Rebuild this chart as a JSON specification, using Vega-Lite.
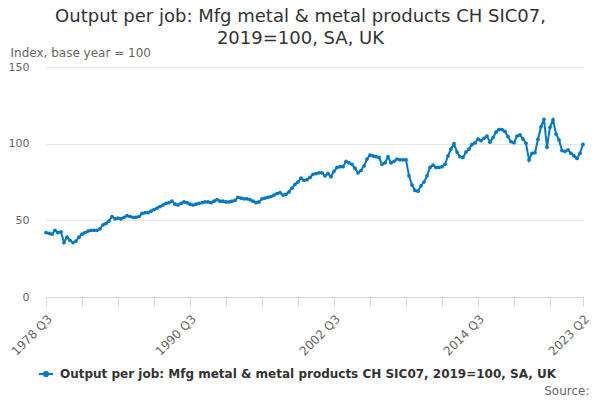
{
  "$schema": "https://vega.github.io/schema/vega-lite/v6.json",
  "width": 537,
  "height": 230,
  "autosize": {"type": "none"},
  "padding": {"left": 46, "top": 67, "right": 17, "bottom": 103},
  "background": "white",
  "title": {
    "text": ["Output per job: Mfg metal & metal products CH SIC07,", "2019=100, SA, UK"],
    "font": "DejaVu Sans",
    "fontSize": 18,
    "fontWeight": "normal",
    "color": "#333333",
    "anchor": "middle",
    "frame": "group",
    "dx": -14,
    "lineHeight": 22,
    "offset": -2
  },
  "config": {"view": {"stroke": null}, "font": "DejaVu Sans"},
  "data": {"values": [
    {"q":"1978 Q3","v":42.0},{"q":"1978 Q4","v":41.5},{"q":"1979 Q1","v":41.0},{"q":"1979 Q2","v":43.5},
    {"q":"1979 Q3","v":42.0},{"q":"1979 Q4","v":42.5},{"q":"1980 Q1","v":35.5},{"q":"1980 Q2","v":39.0},
    {"q":"1980 Q3","v":37.0},{"q":"1980 Q4","v":35.5},{"q":"1981 Q1","v":36.5},{"q":"1981 Q2","v":39.0},
    {"q":"1981 Q3","v":41.0},{"q":"1981 Q4","v":42.0},{"q":"1982 Q1","v":43.0},{"q":"1982 Q2","v":43.5},
    {"q":"1982 Q3","v":43.5},{"q":"1982 Q4","v":43.5},{"q":"1983 Q1","v":44.5},{"q":"1983 Q2","v":47.0},
    {"q":"1983 Q3","v":48.0},{"q":"1983 Q4","v":49.5},{"q":"1984 Q1","v":52.5},{"q":"1984 Q2","v":51.0},
    {"q":"1984 Q3","v":51.5},{"q":"1984 Q4","v":51.0},{"q":"1985 Q1","v":52.0},{"q":"1985 Q2","v":53.0},
    {"q":"1985 Q3","v":52.5},{"q":"1985 Q4","v":52.0},{"q":"1986 Q1","v":52.0},{"q":"1986 Q2","v":52.5},
    {"q":"1986 Q3","v":54.5},{"q":"1986 Q4","v":55.0},{"q":"1987 Q1","v":55.0},{"q":"1987 Q2","v":56.0},
    {"q":"1987 Q3","v":57.0},{"q":"1987 Q4","v":58.0},{"q":"1988 Q1","v":59.0},{"q":"1988 Q2","v":60.0},
    {"q":"1988 Q3","v":61.0},{"q":"1988 Q4","v":61.5},{"q":"1989 Q1","v":62.5},{"q":"1989 Q2","v":60.5},
    {"q":"1989 Q3","v":60.0},{"q":"1989 Q4","v":61.0},{"q":"1990 Q1","v":62.0},{"q":"1990 Q2","v":61.5},
    {"q":"1990 Q3","v":60.5},{"q":"1990 Q4","v":60.0},{"q":"1991 Q1","v":60.5},{"q":"1991 Q2","v":61.0},
    {"q":"1991 Q3","v":61.5},{"q":"1991 Q4","v":62.0},{"q":"1992 Q1","v":62.0},{"q":"1992 Q2","v":61.5},
    {"q":"1992 Q3","v":62.5},{"q":"1992 Q4","v":63.5},{"q":"1993 Q1","v":62.5},{"q":"1993 Q2","v":62.5},
    {"q":"1993 Q3","v":62.0},{"q":"1993 Q4","v":62.0},{"q":"1994 Q1","v":62.5},{"q":"1994 Q2","v":63.0},
    {"q":"1994 Q3","v":65.0},{"q":"1994 Q4","v":64.5},{"q":"1995 Q1","v":64.0},{"q":"1995 Q2","v":64.0},
    {"q":"1995 Q3","v":63.5},{"q":"1995 Q4","v":62.5},{"q":"1996 Q1","v":61.5},{"q":"1996 Q2","v":62.0},
    {"q":"1996 Q3","v":64.0},{"q":"1996 Q4","v":64.5},{"q":"1997 Q1","v":65.0},{"q":"1997 Q2","v":65.5},
    {"q":"1997 Q3","v":66.5},{"q":"1997 Q4","v":67.5},{"q":"1998 Q1","v":68.0},{"q":"1998 Q2","v":66.5},
    {"q":"1998 Q3","v":67.0},{"q":"1998 Q4","v":68.5},{"q":"1999 Q1","v":71.0},{"q":"1999 Q2","v":73.5},
    {"q":"1999 Q3","v":75.0},{"q":"1999 Q4","v":77.5},{"q":"2000 Q1","v":76.0},{"q":"2000 Q2","v":76.5},
    {"q":"2000 Q3","v":78.0},{"q":"2000 Q4","v":80.0},{"q":"2001 Q1","v":80.5},{"q":"2001 Q2","v":81.0},
    {"q":"2001 Q3","v":81.0},{"q":"2001 Q4","v":79.0},{"q":"2002 Q1","v":80.5},{"q":"2002 Q2","v":78.5},
    {"q":"2002 Q3","v":82.0},{"q":"2002 Q4","v":84.5},{"q":"2003 Q1","v":85.0},{"q":"2003 Q2","v":85.0},
    {"q":"2003 Q3","v":88.5},{"q":"2003 Q4","v":87.5},{"q":"2004 Q1","v":86.5},{"q":"2004 Q2","v":84.0},
    {"q":"2004 Q3","v":81.0},{"q":"2004 Q4","v":82.5},{"q":"2005 Q1","v":85.5},{"q":"2005 Q2","v":90.0},
    {"q":"2005 Q3","v":92.5},{"q":"2005 Q4","v":92.0},{"q":"2006 Q1","v":91.5},{"q":"2006 Q2","v":91.0},
    {"q":"2006 Q3","v":86.5},{"q":"2006 Q4","v":87.5},{"q":"2007 Q1","v":91.5},{"q":"2007 Q2","v":87.5},
    {"q":"2007 Q3","v":88.5},{"q":"2007 Q4","v":90.0},{"q":"2008 Q1","v":89.5},{"q":"2008 Q2","v":89.5},
    {"q":"2008 Q3","v":89.5},{"q":"2008 Q4","v":79.0},{"q":"2009 Q1","v":73.0},{"q":"2009 Q2","v":69.5},
    {"q":"2009 Q3","v":69.0},{"q":"2009 Q4","v":72.5},{"q":"2010 Q1","v":75.0},{"q":"2010 Q2","v":79.0},
    {"q":"2010 Q3","v":84.5},{"q":"2010 Q4","v":86.0},{"q":"2011 Q1","v":84.5},{"q":"2011 Q2","v":84.5},
    {"q":"2011 Q3","v":85.0},{"q":"2011 Q4","v":86.5},{"q":"2012 Q1","v":92.0},{"q":"2012 Q2","v":96.5},
    {"q":"2012 Q3","v":100.0},{"q":"2012 Q4","v":94.5},{"q":"2013 Q1","v":91.5},{"q":"2013 Q2","v":91.0},
    {"q":"2013 Q3","v":94.5},{"q":"2013 Q4","v":96.5},{"q":"2014 Q1","v":99.5},{"q":"2014 Q2","v":100.5},
    {"q":"2014 Q3","v":103.0},{"q":"2014 Q4","v":102.0},{"q":"2015 Q1","v":103.5},{"q":"2015 Q2","v":105.0},
    {"q":"2015 Q3","v":101.0},{"q":"2015 Q4","v":104.0},{"q":"2016 Q1","v":107.5},{"q":"2016 Q2","v":109.2},
    {"q":"2016 Q3","v":109.2},{"q":"2016 Q4","v":108.0},{"q":"2017 Q1","v":104.6},{"q":"2017 Q2","v":101.3},
    {"q":"2017 Q3","v":100.6},{"q":"2017 Q4","v":105.0},{"q":"2018 Q1","v":105.7},{"q":"2018 Q2","v":103.0},
    {"q":"2018 Q3","v":100.2},{"q":"2018 Q4","v":89.4},{"q":"2019 Q1","v":93.7},{"q":"2019 Q2","v":94.1},
    {"q":"2019 Q3","v":102.9},{"q":"2019 Q4","v":111.1},{"q":"2020 Q1","v":115.9},{"q":"2020 Q2","v":97.7},
    {"q":"2020 Q3","v":110.7},{"q":"2020 Q4","v":115.5},{"q":"2021 Q1","v":106.3},{"q":"2021 Q2","v":102.4},
    {"q":"2021 Q3","v":95.5},{"q":"2021 Q4","v":95.0},{"q":"2022 Q1","v":95.9},{"q":"2022 Q2","v":93.7},
    {"q":"2022 Q3","v":92.0},{"q":"2022 Q4","v":90.4},{"q":"2023 Q1","v":93.7},{"q":"2023 Q2","v":99.6}
  ]},
  "mark": {"type": "line", "strokeWidth": 2, "point": {"filled": true, "size": 14}},
  "encoding": {
    "x": {
      "field": "q",
      "type": "ordinal",
      "sort": null,
      "scale": {"type": "point", "padding": 0},
      "axis": {
        "values": ["1978 Q3","1981 Q3","1984 Q3","1987 Q3","1990 Q3","1993 Q3","1996 Q3","1999 Q3","2002 Q3","2005 Q3","2008 Q3","2011 Q3","2014 Q3","2017 Q3","2020 Q3","2023 Q2"],
        "labelExpr": "indexof(['1978 Q3','1990 Q3','2002 Q3','2014 Q3','2023 Q2'], datum.value) >= 0 ? datum.value : ''",
        "labelAngle": -45,
        "labelFont": "DejaVu Sans",
        "labelFontSize": 12,
        "labelColor": "#666666",
        "labelOverlap": false,
        "labelPadding": 7,
        "domainColor": "#ccd6eb",
        "tickColor": "#ccd6eb",
        "tickSize": 9,
        "grid": false,
        "title": "Source:",
        "titleX": 543,
        "titleY": 97,
        "titleAlign": "right",
        "titleBaseline": "alphabetic",
        "titleFont": "DejaVu Sans",
        "titleFontSize": 12,
        "titleFontWeight": "normal",
        "titleColor": "#666666"
      }
    },
    "y": {
      "field": "v",
      "type": "quantitative",
      "scale": {"domain": [0, 150]},
      "axis": {
        "values": [0, 50, 100, 150],
        "title": "Index, base year = 100",
        "titleAngle": 0,
        "titleAlign": "left",
        "titleBaseline": "alphabetic",
        "titleX": -36,
        "titleY": -11,
        "titleFont": "DejaVu Sans",
        "titleFontSize": 12,
        "titleFontWeight": "normal",
        "titleColor": "#666666",
        "labelFont": "DejaVu Sans",
        "labelFontSize": 11,
        "labelColor": "#666666",
        "labelPadding": 17,
        "domain": false,
        "ticks": false,
        "gridColor": "#e6e6e6"
      }
    },
    "color": {
      "datum": "Output per job: Mfg metal & metal products CH SIC07, 2019=100, SA, UK",
      "type": "nominal",
      "scale": {"range": ["#0077c8"]},
      "legend": {
        "orient": "none",
        "legendX": -8,
        "legendY": 299,
        "title": null,
        "labelFont": "DejaVu Sans",
        "labelFontSize": 12,
        "labelFontWeight": "bold",
        "labelColor": "#333333",
        "labelLimit": 700,
        "labelOffset": 6,
        "symbolType": "M-1,0L1,0M-0.3,0A0.3,0.3 0 1,0 0.3,0A0.3,0.3 0 1,0 -0.3,0",
        "symbolSize": 196,
        "symbolStrokeWidth": 2,
        "symbolFillColor": "#0077c8",
        "symbolStrokeColor": "#0077c8"
      }
    }
  }
}
